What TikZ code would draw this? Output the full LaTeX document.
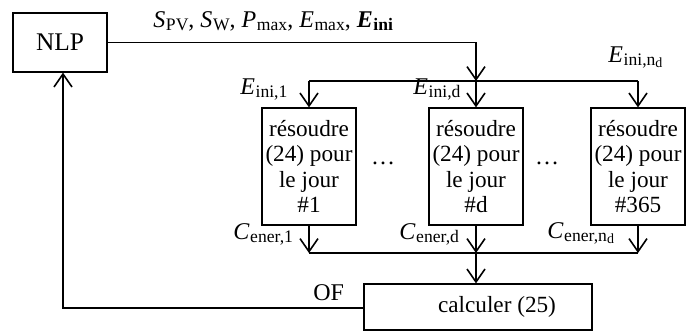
\documentclass[tikz,border=0pt]{standalone}
\usepackage{fontspec}
\setmainfont{Liberation Serif}
\usetikzlibrary{arrows.meta}
% italic symbol with an upright subscript
\newcommand\lowsub[1]{\raisebox{-1.6pt}{\fontsize{8.8}{10}\selectfont #1}}
\newcommand\tinysub[1]{\raisebox{-1.2pt}{\fontsize{7}{8}\selectfont #1}}
\newcommand\symsub[2]{\textit{#1}\kern0.3pt\lowsub{#2}}

\begin{document}
\begin{tikzpicture}[x=0.5pt,y=-0.5pt,
  box/.style={draw, line width=0.6pt, inner sep=0pt, align=center,
    font=\fontsize{11.6}{12.8}\selectfont},
  daybox/.style={box, minimum width=47pt, minimum height=58.5pt},
  link/.style={line width=0.8pt},
  flow/.style={link, -{Straight Barb[length=6.5pt,width=9pt,line width=0.8pt]}},
  lbl/.style={inner sep=0pt, font=\fontsize{12}{14}\selectfont}]
\useasboundingbox (0,0) rectangle (691,332);

% blocks
\node[box, minimum width=47pt, minimum height=29.5pt, font=\fontsize{12.7}{14}\selectfont] (nlp) at (60,42.5) {NLP};
\node[daybox] (d1) at (309,166.5) {résoudre\\(24) pour\\le jour\\\#1};
\node[daybox] (d2) at (476,166.5) {résoudre\\(24) pour\\le jour\\\#d};
\node[daybox] (d3) at (638,166.5) {résoudre\\(24) pour\\le jour\\\#365};
\node[box, minimum width=114pt, minimum height=23pt] (calc) at (478,307) {\hspace*{19pt}calculer (25)};

\node[lbl] (dots1) at (383,163) {\dots};
\node[lbl] (dots2) at (547,163) {\dots};

% branch and merge points
\coordinate (split) at (476,81);
\coordinate (join) at (476,253);
\coordinate (fb) at (63,308);

% parameters sent to every day
\draw[flow] (nlp.east) -| (split);
\draw[link] (split -| d1.north) -- (split -| d3.north);
\draw[flow] (split -| d1.north) -- (d1.north);
\draw[flow] (split) -- (d2.north);
\draw[flow] (split -| d3.north) -- (d3.north);

% daily costs collected
\draw[flow] (d1.south) -- (d1.south |- join);
\draw[flow] (d2.south) -- (join);
\draw[flow] (d3.south) -- (d3.south |- join);
\draw[link] (d1.south |- join) -- (d3.south |- join);
\draw[flow] (join) -- (join |- calc.north);

% objective returned to the optimiser
\draw[flow] (calc.west |- fb) -- (fb) -- (fb |- nlp.south);

% labels
\node[lbl, anchor=base west] (lpar) at (153,27)
  {\symsub{S}{PV}, \symsub{S}{W}, \symsub{P}{max}, \symsub{E}{max}, \textbf{\symsub{E}{ini}}};
\node[lbl, anchor=base west] (le1) at (240,94) {\symsub{E}{ini,1}};
\node[lbl, anchor=base west] (led) at (413,94) {\symsub{E}{ini,d}};
\node[lbl, anchor=base west] (len) at (608,62) {\symsub{E}{ini,n\tinysub{d}}};
\node[lbl, anchor=base west] (lc1) at (233,239) {\symsub{C}{ener,1}};
\node[lbl, anchor=base west] (lcd) at (399,239) {\symsub{C}{ener,d}};
\node[lbl, anchor=base west] (lcn) at (547,238) {\symsub{C}{ener,n\tinysub{d}}};
\node[lbl, anchor=base west] (lof) at (313,300) {OF};
\end{tikzpicture}
\end{document}
